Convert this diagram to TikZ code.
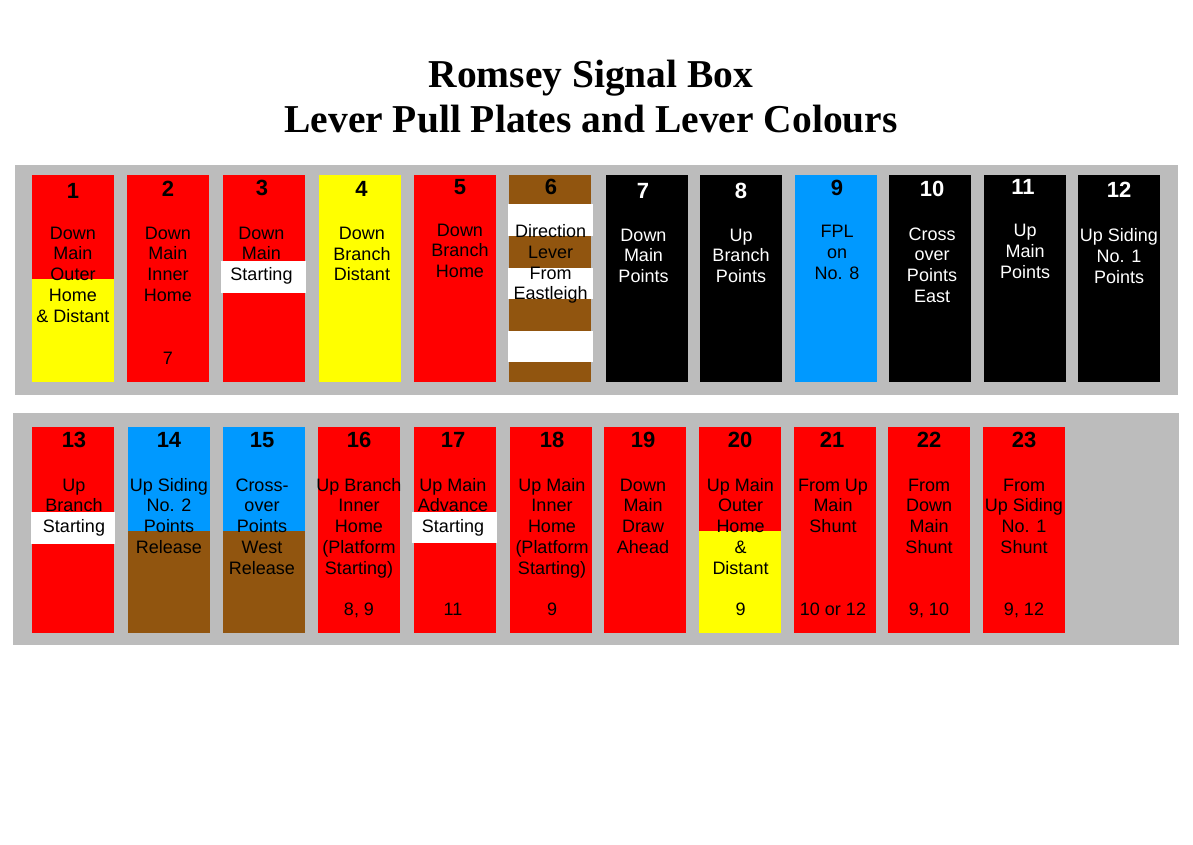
\documentclass[tikz,border=0pt]{standalone}
\usepackage{fontspec}
\setmainfont{Liberation Sans}
\newfontfamily\titlefont{Liberation Serif}
\definecolor{bandgrey}{RGB}{188,188,188}
\definecolor{sigred}{RGB}{255,0,0}
\definecolor{sigyellow}{RGB}{255,255,0}
\definecolor{sigblue}{RGB}{0,153,255}
\definecolor{sigbrown}{RGB}{145,85,15}
\newcommand\platetext[5]{%
  \foreach \t [count=\i] in {#5} {\node[lbl,text=#4] (#1-\i) at (#2,{#3+(\i-1)*20.8}) {\t};}}
\newcommand\plate[5]{\node[plate,minimum height=#5pt,fill=#4] (p#1) at (#2,#3) {};}
\begin{document}
\begin{tikzpicture}[x=1pt,y=-1pt,
  plate/.style={draw=none,minimum width=82pt,anchor=north west,inner sep=0pt,outer sep=0pt},
  num/.style={font=\bfseries\fontsize{22}{22}\selectfont,anchor=base,inner sep=0pt},
  lbl/.style={font=\fontsize{18}{20}\selectfont,anchor=base,inner sep=0pt},
  ttl/.style={font=\titlefont\bfseries\fontsize{39.5}{44}\selectfont,anchor=base,inner sep=0pt}]
\useasboundingbox (0,0) rectangle (1193,844);
\fill[white] (0,0) rectangle (1193,844);
% title
\node[ttl] (t1) at (591,87) {Romsey Signal Box};
\node[ttl] (t2) at (591,132) {Lever Pull Plates and Lever Colours};
% bands
\fill[bandgrey] (15,165) rectangle (1178,395);
\fill[bandgrey] (13,413) rectangle (1179,645);
% ---------- top row ----------
\plate{1}{32}{175}{sigred}{207}
\plate{2}{127}{175}{sigred}{207}
\plate{3}{222.5}{175}{sigred}{207}
\plate{4}{318.5}{175}{sigyellow}{207}
\plate{5}{413.5}{175}{sigred}{207}
\plate{6}{509}{175}{sigbrown}{207}
\plate{7}{606}{175}{black}{207}
\plate{8}{700}{175}{black}{207}
\plate{9}{794.5}{175}{sigblue}{207}
\plate{10}{889}{175}{black}{207}
\plate{11}{983.5}{175}{black}{207}
\plate{12}{1078}{175}{black}{207}
% overlays top
\fill[sigyellow] (32,279) rectangle (114,382);
\fill[white] (220.7,260.7) rectangle (305.5,292.7);
\fill[white] (508,204) rectangle (593,236);
\fill[white] (508,267.7) rectangle (593,299.3);
\fill[white] (508,330.7) rectangle (593,361.7);
% numbers top
\node[num] (n1) at (73,198) {1};
\node[num] (n2) at (168,196) {2};
\node[num] (n3) at (262,195.5) {3};
\node[num] (n4) at (361.5,196) {4};
\node[num] (n5) at (460,194) {5};
\node[num] (n6) at (551,194.5) {6};
\node[num,text=white] (n7) at (643,198) {7};
\node[num,text=white] (n8) at (741,198) {8};
\node[num] (n9) at (837,195) {9};
\node[num,text=white] (n10) at (932,196) {10};
\node[num,text=white] (n11) at (1023,194.5) {11};
\node[num,text=white] (n12) at (1119,197.5) {12};
% labels top
\platetext{a1}{73}{239}{black}{Down,Main,Outer,Home,\& Distant}
\platetext{a2}{168}{239}{black}{Down,Main,Inner,Home}
\node[lbl] (b2) at (168,364.5) {7};
\platetext{a3}{261.5}{239}{black}{Down,Main,Starting}
\platetext{a4}{362}{239.3}{black}{Down,Branch,Distant}
\platetext{a5}{460}{236}{black}{Down,Branch,Home}
\platetext{a6}{550.7}{237.5}{black}{Direction,Lever,From,Eastleigh}
\platetext{a7}{643.5}{241}{white}{Down,Main,Points}
\platetext{a8}{741}{241}{white}{Up,Branch,Points}
\platetext{a9}{837}{237.5}{black}{FPL,on,No. 8}
\platetext{a10}{932}{240}{white}{Cross,over,Points,East}
\platetext{a11}{1025}{236.5}{white}{Up,Main,Points}
\platetext{a12}{1119}{241.5}{white}{Up Siding,No. 1,Points}
% ---------- bottom row ----------
\plate{13}{32}{427}{sigred}{206}
\plate{14}{128}{427}{sigblue}{206}
\plate{15}{222.5}{427}{sigblue}{206}
\plate{16}{317.5}{427}{sigred}{206}
\plate{17}{413.5}{427}{sigred}{206}
\plate{18}{509.5}{427}{sigred}{206}
\plate{19}{604}{427}{sigred}{206}
\plate{20}{699}{427}{sigred}{206}
\plate{21}{793.5}{427}{sigred}{206}
\plate{22}{888}{427}{sigred}{206}
\plate{23}{982.5}{427}{sigred}{206}
% overlays bottom
\fill[white] (30.7,512.3) rectangle (115,544.3);
\fill[sigbrown] (128,530.7) rectangle (210,633);
\fill[sigbrown] (222.5,530.7) rectangle (304.5,633);
\fill[white] (411.7,512.3) rectangle (496.7,543.3);
\fill[sigyellow] (699,530.7) rectangle (781,633);
% numbers bottom
\node[num] (n13) at (74,447.5) {13};
\node[num] (n14) at (169,447.5) {14};
\node[num] (n15) at (262,447.5) {15};
\node[num] (n16) at (359,447.5) {16};
\node[num] (n17) at (453,447.5) {17};
\node[num] (n18) at (552,447.5) {18};
\node[num] (n19) at (643,447.5) {19};
\node[num] (n20) at (740,447.5) {20};
\node[num] (n21) at (832,447.5) {21};
\node[num] (n22) at (929,447.5) {22};
\node[num] (n23) at (1024,447.5) {23};
% labels bottom
\platetext{a13}{74}{491}{black}{Up,Branch,Starting}
\platetext{a14}{169}{491}{black}{Up Siding,No. 2,Points,Release}
\platetext{a15}{262}{491}{black}{Cross-,over,Points,West,Release}
\platetext{a16}{359}{491}{black}{Up Branch,Inner,Home,{(}Platform,Starting)}
\node[lbl] (b16) at (359,615) {8, 9};
\platetext{a17}{453}{491}{black}{Up Main,Advance,Starting}
\node[lbl] (b17) at (453,615) {11};
\platetext{a18}{552}{491}{black}{Up Main,Inner,Home,{(}Platform,Starting)}
\node[lbl] (b18) at (552,615) {9};
\platetext{a19}{643}{491}{black}{Down,Main,Draw,Ahead}
\platetext{a20}{740.5}{491}{black}{Up Main,Outer,Home,\&,Distant}
\node[lbl] (b20) at (740.5,615) {9};
\platetext{a21}{833}{491}{black}{From Up,Main,Shunt}
\node[lbl] (b21) at (833,615) {10 or 12};
\platetext{a22}{929}{491}{black}{From,Down,Main,Shunt}
\node[lbl] (b22) at (929,615) {9, 10};
\platetext{a23}{1024}{491}{black}{From,Up Siding,No. 1,Shunt}
\node[lbl] (b23) at (1024,615) {9, 12};
\end{tikzpicture}
\end{document}
